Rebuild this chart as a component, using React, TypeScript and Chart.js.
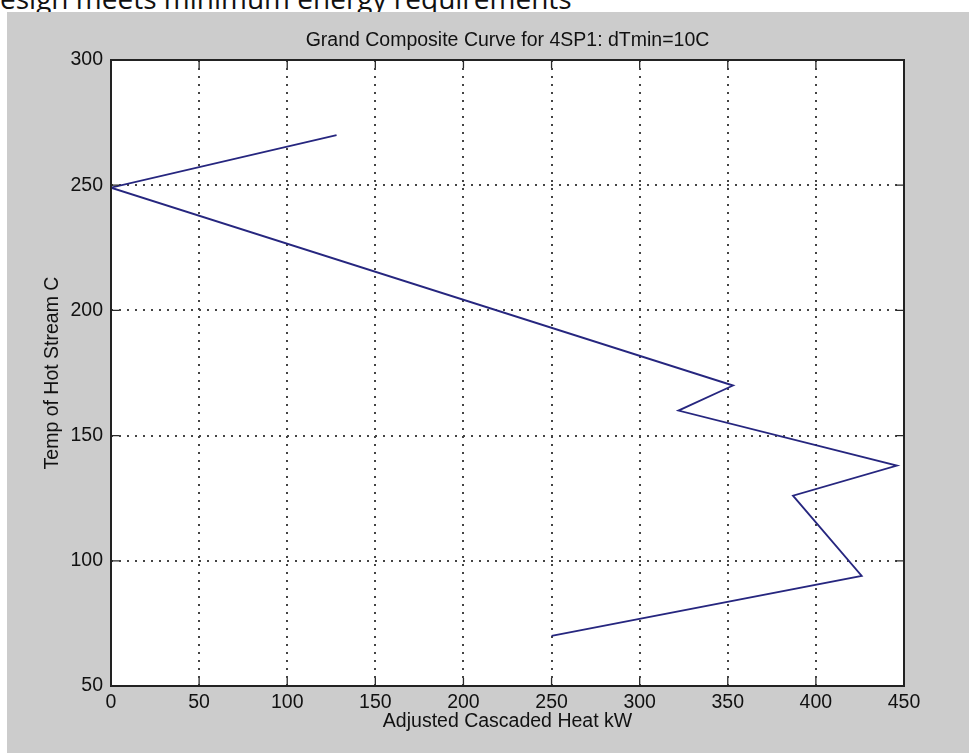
import React, { useEffect, useRef } from "react";
import { Chart, registerables } from "chart.js";

Chart.register(...registerables);

const headerText = "esign meets minimum energy requirements";
const chartTitle = "Grand Composite Curve for 4SP1: dTmin=10C";
const xAxisLabel = "Adjusted Cascaded Heat kW";
const yAxisLabel = "Temp of Hot Stream C";

// Grand composite curve, in plotted order
const cascadedHeatKW = [128, 0, 353, 322, 446, 387, 426, 250];
const hotStreamTempC = [270, 249, 170, 160, 138, 126, 94, 70];

const xTickValues = [0, 50, 100, 150, 200, 250, 300, 350, 400, 450];
const yTickValues = [50, 100, 150, 200, 250, 300];

const FONT = '"Liberation Sans", Arial, Helvetica, sans-serif';

const framePlugin = {
  id: "matlabFrame",
  beforeDraw(chart: any) {
    const { ctx, chartArea: a, width, height } = chart;
    ctx.save();
    ctx.fillStyle = "#cccccc";
    ctx.fillRect(0, 0, width, height);
    ctx.fillStyle = "#ffffff";
    ctx.fillRect(a.left, a.top, a.right - a.left, a.bottom - a.top);
    ctx.restore();
  },
  afterDraw(chart: any) {
    const { ctx, chartArea: a, scales } = chart;
    const len = 8;
    ctx.save();
    ctx.strokeStyle = "#2a2a2a";
    ctx.lineWidth = 1.3;
    ctx.beginPath();
    for (const v of xTickValues) {
      const px = scales.x.getPixelForValue(v);
      ctx.moveTo(px, a.bottom);
      ctx.lineTo(px, a.bottom - len);
      ctx.moveTo(px, a.top);
      ctx.lineTo(px, a.top + len);
    }
    for (const v of yTickValues) {
      const py = scales.y.getPixelForValue(v);
      ctx.moveTo(a.left, py);
      ctx.lineTo(a.left + len, py);
      ctx.moveTo(a.right, py);
      ctx.lineTo(a.right - len, py);
    }
    ctx.stroke();
    ctx.lineWidth = 2;
    ctx.strokeStyle = "#222222";
    ctx.strokeRect(a.left, a.top, a.right - a.left, a.bottom - a.top);
    ctx.restore();
  },
};

export default function App() {
  const canvasRef = useRef<HTMLCanvasElement | null>(null);

  useEffect(() => {
    const canvas = canvasRef.current;
    if (!canvas) return;
    const tickFont = { family: FONT, size: 19.5, weight: "normal" as const };
    const chart = new Chart(canvas, {
      type: "line",
      data: {
        datasets: [
          {
            data: cascadedHeatKW.map((x, i) => ({ x, y: hotStreamTempC[i] })),
            borderColor: "#26267f",
            borderWidth: 1.8,
            pointRadius: 0,
            fill: false,
            tension: 0,
          },
        ],
      },
      options: {
        animation: false,
        responsive: false,
        devicePixelRatio: 1,
        layout: { padding: { top: 0, right: 65, bottom: 0, left: 0 } },
        plugins: {
          legend: { display: false },
          tooltip: { enabled: false },
          title: {
            display: true,
            fullSize: false,
            text: chartTitle,
            color: "#111111",
            font: { family: FONT, size: 19.5, weight: "normal", lineHeight: 1.2 },
            padding: { top: 17, bottom: 7.6 },
          },
        },
        scales: {
          x: {
            type: "linear",
            min: 0,
            max: 450,
            afterBuildTicks: (s: any) => {
              s.ticks = xTickValues.map((value) => ({ value }));
            },
            afterFit: (s: any) => {
              s.height = 67;
            },
            grid: { color: "#444444", lineWidth: 2, drawTicks: false },
            border: { display: false, dash: [2, 6] },
            ticks: { color: "#111111", font: tickFont, padding: 5, maxRotation: 0, autoSkip: false },
            title: {
              display: true,
              text: xAxisLabel,
              color: "#111111",
              font: { family: FONT, size: 19.5, weight: "normal", lineHeight: 1.2 },
              padding: { top: 0, bottom: 20 },
            },
          },
          y: {
            type: "linear",
            min: 50,
            max: 300,
            afterBuildTicks: (s: any) => {
              s.ticks = yTickValues.map((value) => ({ value }));
            },
            afterFit: (s: any) => {
              s.width = 104;
            },
            grid: { color: "#444444", lineWidth: 2, drawTicks: false },
            border: { display: false, dash: [2, 6] },
            ticks: { color: "#111111", font: tickFont, padding: 8, autoSkip: false },
            title: {
              display: true,
              text: yAxisLabel,
              color: "#111111",
              font: { family: FONT, size: 19.5, weight: "normal", lineHeight: 1.2 },
              padding: { top: 34, bottom: 0 },
            },
          },
        },
      },
      plugins: [framePlugin],
    });
    return () => chart.destroy();
  }, []);

  return (
    <div
      style={{
        position: "absolute",
        left: 0,
        top: 0,
        width: 969,
        height: 753,
        background: "#ffffff",
        overflow: "hidden",
      }}
    >
      <div
        style={{
          position: "absolute",
          left: 0,
          top: -16,
          fontFamily: '"Open Sans", "Noto Sans", sans-serif',
          fontSize: 28,
          lineHeight: "28px",
          color: "#111111",
          whiteSpace: "nowrap",
        }}
      >
        {headerText}
      </div>
      <div style={{ position: "absolute", left: 7, top: 12, width: 962, height: 741 }}>
        <canvas ref={canvasRef} width={962} height={741} style={{ display: "block" }} />
      </div>
    </div>
  );
}
